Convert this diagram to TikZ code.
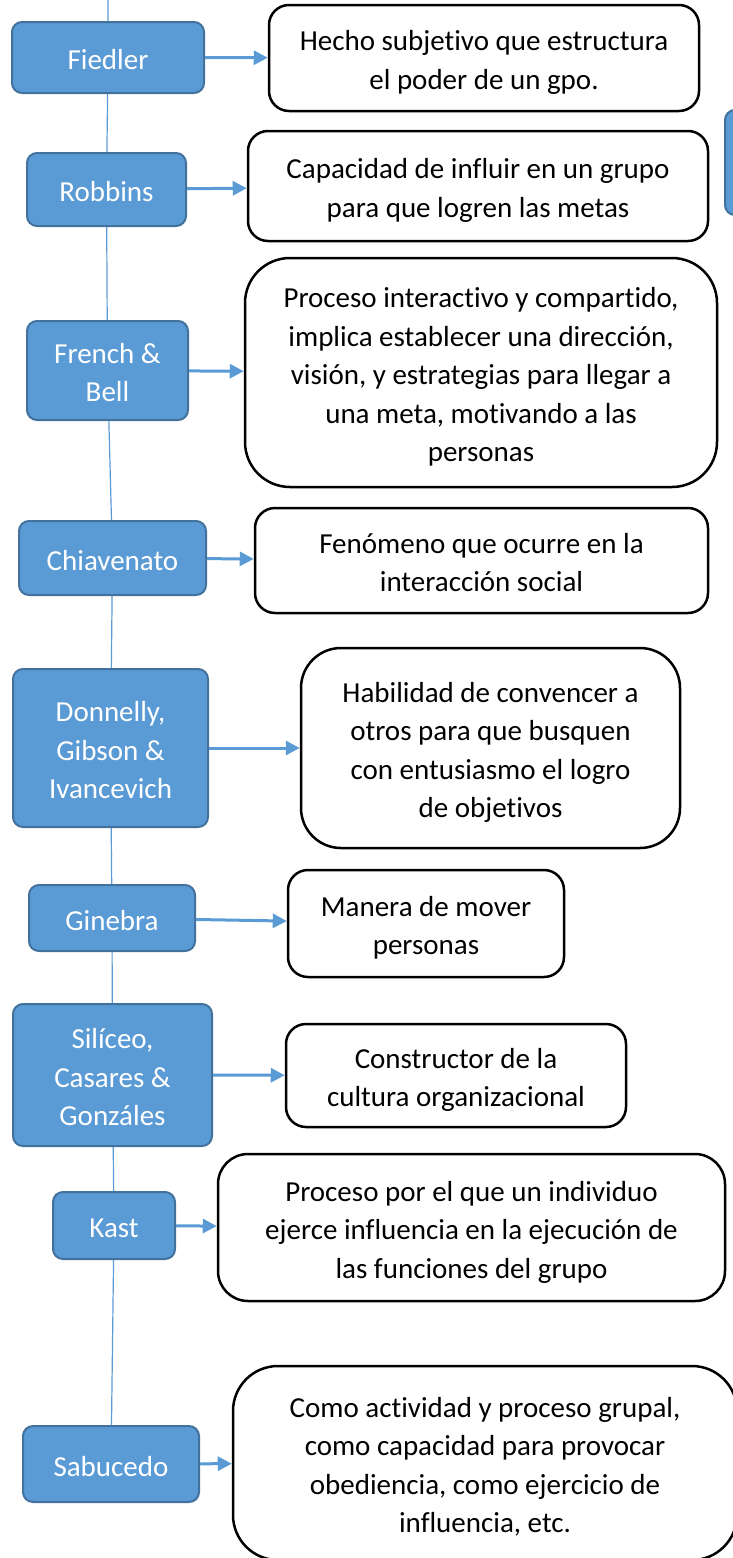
\documentclass[tikz,border=0pt]{standalone}
\usepackage{fontspec}
\setmainfont{Carlito}[Ligatures=NoCommon]
\usetikzlibrary{arrows.meta}
\definecolor{azul}{HTML}{5B9BD5}
\definecolor{azulborde}{HTML}{41719C}
\tikzset{
  autor/.style={draw=azulborde,line width=2pt,fill=azul,rounded corners=10pt,text=white,
    align=center,inner sep=0pt,font=\fontsize{29}{38.5}\selectfont,
    text height=31pt,text depth=7pt},
  idea/.style={draw=black,line width=2.5pt,fill=white,rounded corners=20pt,
    align=center,inner sep=0pt,font=\fontsize{29}{38.5}\selectfont,
    text height=31pt,text depth=7pt},
  lineas/.style={text height=#1},
  flecha/.style={draw=azul,line width=3pt,-{Triangle[length=14pt,width=14pt]}},
  eje/.style={draw=azul,line width=1.2pt}
}
\begin{document}
\begin{tikzpicture}[x=1pt,y=1pt]
  \useasboundingbox (0,0) rectangle (733,-1558);
  \clip (0,0) rectangle (733,-1558);
  % autores
  \node[autor,minimum width=192,minimum height=71] (fiedler) at (108,-57.5) {Fiedler};
  \node[autor,minimum width=159,minimum height=73] (robbins) at (106.5,-189.5) {Robbins};
  \node[autor,lineas=69.5pt,minimum width=161,minimum height=99] (french) at (107.5,-370.5) {French \&\\Bell};
  \node[autor,minimum width=187,minimum height=74] (chiavenato) at (112.5,-558) {Chiavenato};
  \node[autor,lineas=108pt,minimum width=195,minimum height=158] (donnelly) at (110.5,-748) {Donnelly,\\Gibson \&\\Ivancevich};
  \node[autor,minimum width=166,minimum height=66] (ginebra) at (112,-918) {Ginebra};
  \node[autor,lineas=108pt,minimum width=199,minimum height=142] (siliceo) at (112.5,-1075) {Silíceo,\\Casares \&\\Gonzáles};
  \node[autor,minimum width=122,minimum height=67] (kast) at (114,-1225.5) {Kast};
  \node[autor,minimum width=176,minimum height=76] (sabucedo) at (111,-1464) {Sabucedo};
  \node[autor,minimum width=40,minimum height=105] (cortado) at (745,-162.5) {};
  % definiciones
  \node[idea,lineas=69.5pt,minimum width=430,minimum height=106] (hecho) at (484,-58)
    {Hecho subjetivo que estructura\\el poder de un gpo.};
  \node[idea,lineas=69.5pt,minimum width=460,minimum height=110] (capacidad) at (478,-186)
    {Capacidad de influir en un grupo\\para que logren las metas};
  \node[idea,lineas=185pt,minimum width=472,minimum height=229,rounded corners=45pt] (interactivo) at (481,-372.5)
    {Proceso interactivo y compartido,\\implica establecer una dirección,\\visión, y estrategias para llegar a\\una meta, motivando a las\\personas};
  \node[idea,lineas=69.5pt,minimum width=453,minimum height=105] (fenomeno) at (481.5,-560.5)
    {Fenómeno que ocurre en la\\interacción social};
  \node[idea,lineas=146.5pt,minimum width=379,minimum height=200,rounded corners=40pt] (habilidad) at (490.5,-748)
    {Habilidad de convencer a\\otros para que busquen\\con entusiasmo el logro\\de objetivos};
  \node[idea,lineas=69.5pt,minimum width=276,minimum height=107] (manera) at (426,-923.5)
    {Manera de mover\\personas};
  \node[idea,lineas=69.5pt,minimum width=340,minimum height=103] (constructor) at (456,-1075.5)
    {Constructor de la\\cultura organizacional};
  \node[idea,lineas=108pt,minimum width=507,minimum height=147,rounded corners=30pt] (individuo) at (471.5,-1227.5)
    {Proceso por el que un individuo\\ejerce influencia en la ejecución de\\las funciones del grupo};
  \node[idea,lineas=146.5pt,minimum width=504,minimum height=194,rounded corners=45pt] (actividad) at (485,-1463)
    {Como actividad y proceso grupal,\\como capacidad para provocar\\obediencia, como ejercicio de\\influencia, etc.};
  % eje
  \coordinate (arriba) at (108,0);
  \draw[eje] (arriba) -- (fiedler) -- (robbins) -- (french) -- (chiavenato) -- (donnelly)
    -- (ginebra) -- (siliceo) -- (kast) -- (sabucedo);
  % flechas
  \draw[flecha] (fiedler) -- (hecho);
  \draw[flecha] (robbins) -- (capacidad);
  \draw[flecha] (french) -- (interactivo);
  \draw[flecha] (chiavenato) -- (fenomeno);
  \draw[flecha] (donnelly) -- (habilidad);
  \draw[flecha] (ginebra) -- (manera);
  \draw[flecha] (siliceo) -- (constructor);
  \draw[flecha] (kast) -- (individuo);
  \draw[flecha] (sabucedo) -- (actividad);
\end{tikzpicture}
\end{document}
